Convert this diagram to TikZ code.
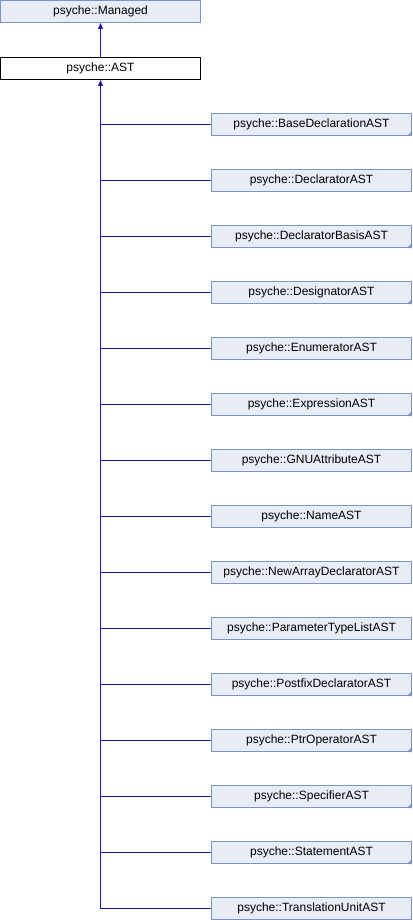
\documentclass[tikz,border=0pt]{standalone}
\usepackage{fontspec}
\setmainfont{Liberation Sans}
\usetikzlibrary{arrows.meta}
\definecolor{boxfill}{HTML}{E8ECF5}
\definecolor{boxline}{HTML}{7E94C8}
\definecolor{edgeblue}{HTML}{1A1A9C}
\begin{document}
\begin{tikzpicture}[x=1pt,y=-1pt,
  cls/.style={draw=boxline,fill=boxfill,line width=1pt,minimum width=200pt,minimum height=22pt,inner sep=0pt,font=\fontsize{12}{14}\selectfont},
  base/.style={draw=black,fill=white,line width=1pt,minimum width=200pt,minimum height=22pt,inner sep=0pt,font=\fontsize{12}{14}\selectfont},
  edge/.style={draw=edgeblue,line width=1pt},
  inh/.style={edge,-{Triangle[width=5pt,length=6pt]}}
]
\useasboundingbox (0,0) rectangle (412,920);
\node[cls] (managed) at (100.5,11.5) {psyche::Managed};
\node[base] (ast) at (100.5,68.5) {psyche::AST};
\draw[inh] (ast.north) -- (managed.south);
\foreach \name/\lab/\tri [count=\i from 0] in {
  bd/BaseDeclarationAST/1, dc/DeclaratorAST/0, db/DeclaratorBasisAST/1,
  ds/DesignatorAST/1, en/EnumeratorAST/0, ex/ExpressionAST/1,
  gnu/GNUAttributeAST/0, nm/NameAST/0, nad/NewArrayDeclaratorAST/0,
  ptl/ParameterTypeListAST/0, pd/PostfixDeclaratorAST/1, po/PtrOperatorAST/1,
  sp/SpecifierAST/1, st/StatementAST/1, tu/TranslationUnitAST/0} {
  \node[cls] (\name) at (311.5,124.5+56*\i) {psyche::\lab};
  \ifnum\tri=1
    \fill[boxline] (\name.south east) -- ++(0,-5) -- ++(-5,5) -- cycle;
  \fi
}
\draw[inh] (tu.west) -| (ast.south);
\foreach \name in {bd,dc,db,ds,en,ex,gnu,nm,nad,ptl,pd,po,sp,st}
  \draw[edge] (\name.west) -- (\name.west -| ast.south);
\end{tikzpicture}
\end{document}
